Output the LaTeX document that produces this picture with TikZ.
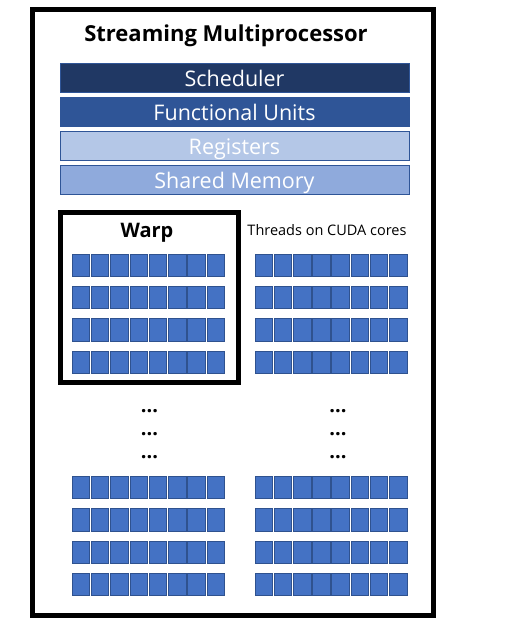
\documentclass[tikz,border=0pt]{standalone}
\usepackage{fontspec}
\setmainfont{Open Sans}
\usepackage{tikz}

\definecolor{schedblue}{HTML}{203864}
\definecolor{unitblue}{HTML}{2F5597}
\definecolor{regblue}{HTML}{B4C7E7}
\definecolor{memblue}{HTML}{8FAADC}
\definecolor{threadfill}{HTML}{4472C4}
\definecolor{threadline}{HTML}{2F528F}

\tikzset{
  bar/.style={draw=unitblue, line width=0.8pt, minimum width=349pt, minimum height=29pt,
    inner sep=0pt, text height=21pt, text depth=4pt, text=white,
    font=\fontsize{21.5}{23}\selectfont},
  thread/.style={draw=threadline, fill=threadfill, line width=0.8pt},
  frame/.style={line width=5pt},
  dots/.style={anchor=base, font=\bfseries\fontsize{20}{22}\selectfont, inner sep=0pt}
}

\begin{document}
\begin{tikzpicture}[x=1pt, y=-1pt]
    \useasboundingbox (0,0) rectangle (514,642);
    % outer frame of the multiprocessor
    \draw[frame] (32.5,9.5) rectangle (433,615.5);
    \node[font=\bfseries\fontsize{22}{26}\selectfont] (title) at (226,36) {Streaming Multiprocessor};
    % the four bars
    \node[bar, fill=schedblue] (sched) at (234.5,77.5) {Scheduler};
    \node[bar, fill=unitblue] (units) at (234.5,111.5) {Functional Units};
    \node[bar, fill=regblue] (regs) at (234.5,145.5) {Registers};
    \node[bar, fill=memblue] (shmem) at (234.5,179.5) {Shared Memory};
    % warp box
    \draw[frame] (60.5,212) rectangle (238,382.5);
    \node[font=\bfseries\fontsize{20}{24}\selectfont] (warp) at (147,233) {Warp};
    \node[font=\fontsize{14.5}{17}\selectfont] (threads) at (327,230) {Threads on CUDA cores};
    % threads, top and bottom blocks
    \foreach \y in {254,286.3,318.6,351,476,508.5,541,573.3} {
        \foreach \c in {0,...,7} {
            \draw[thread] (72+\c*19.3,\y) rectangle ++(17.5,22.5);
            \draw[thread] (255+\c*19.2,\y) rectangle ++(17.5,22.5);
        }
    }
    % dots
    \foreach \i/\y in {1/412,2/435,3/458} {
        \node[dots] (ldots\i) at (149.5,\y) {...};
        \node[dots] (rdots\i) at (338,\y) {...};
    }
\end{tikzpicture}
\end{document}
